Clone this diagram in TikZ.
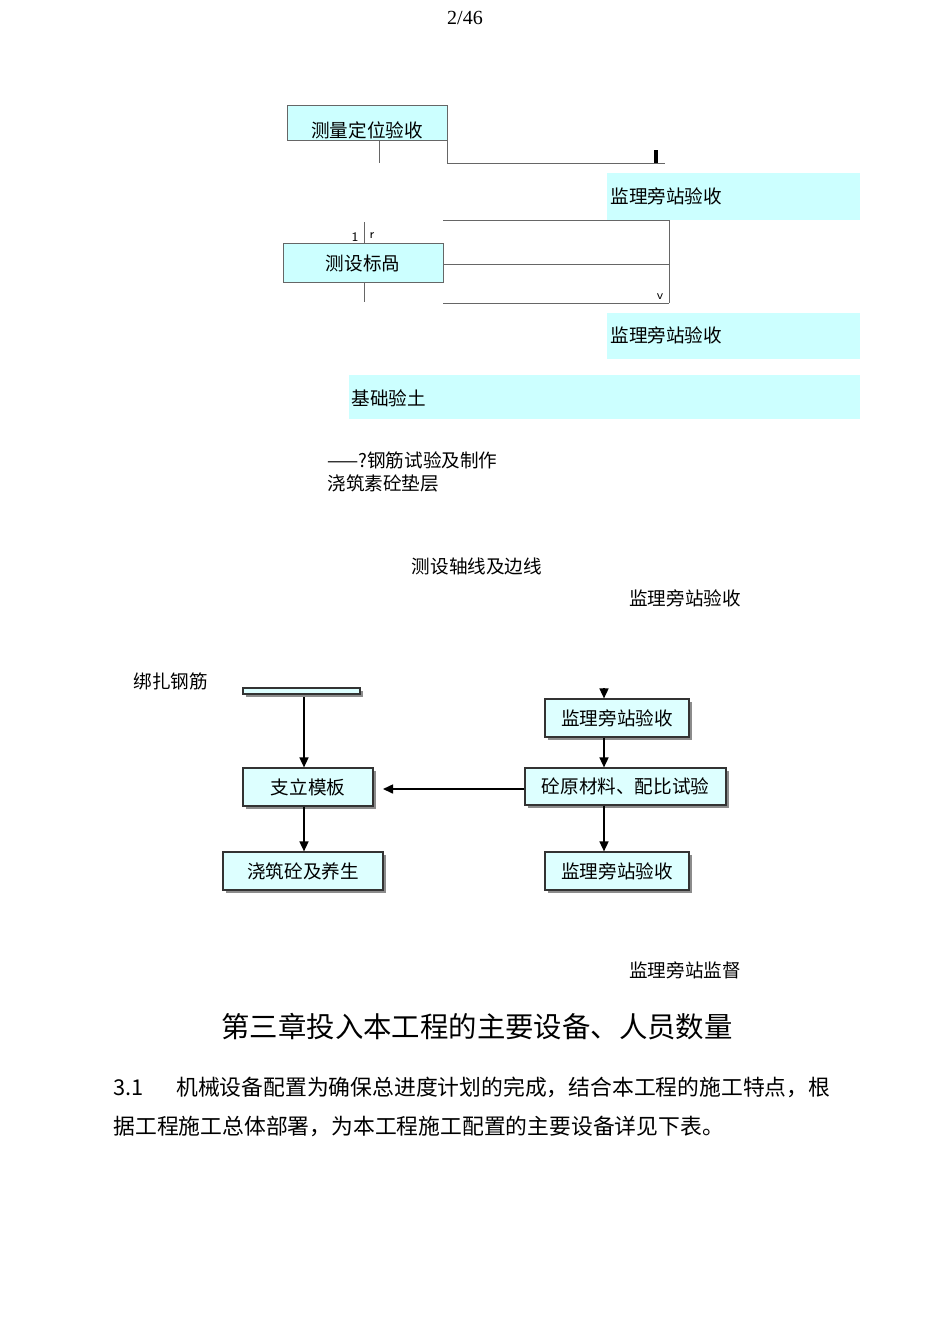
\documentclass[tikz,border=0pt]{standalone}
\usepackage{fontspec}
\setmainfont{Liberation Serif}
\newfontfamily\cjk{Noto Sans CJK SC}
\usetikzlibrary{shadows,arrows.meta}
\definecolor{cy}{HTML}{CCFFFF}
\definecolor{bx}{HTML}{DDFFFF}
\tikzset{
 ln/.style={draw=black!60, line width=0.5pt},
 cybox/.style={fill=cy, draw=none},
 fbox/.style={fill=bx, draw=black!80, line width=0.6pt, drop shadow={shadow xshift=1.5pt, shadow yshift=-1.5pt, fill=black!45, opacity=1}},
 arr/.style={draw=black, line width=0.8pt, -{Triangle[length=5pt,width=4.5pt]}},
 lab/.style={font=\cjk\fontsize{9.3}{11}\selectfont, inner sep=0pt},
 tiny/.style={font=\sffamily\fontsize{6.5}{7}\selectfont, inner sep=0pt},
}
\begin{document}
\begin{tikzpicture}[x=0.5pt,y=-0.5pt]
\useasboundingbox (0,0) rectangle (950,1344);
\node[font=\fontsize{10}{12}\selectfont] (pg) at (465,18) {2/46};
% top part
\filldraw[fill=cy, draw=black!60] (287,105) rectangle (447,140);
\node[lab] (b1) at (367,130) {测量定位验收};
\coordinate (c1) at (379,140); \coordinate (c2) at (379,163);
\draw[ln] (c1) -- (c2);
\coordinate (c3) at (447,140); \coordinate (c4) at (665,163);
\draw[ln] (c3) |- (c4);
\draw[line width=1.8pt] (656,150) -- (656,163);
\fill[cy] (607,173) rectangle (860,220);
\node[lab, anchor=west] (j1) at (610,196) {监理旁站验收};
\coordinate (d1) at (443,220); \coordinate (d2) at (669,220); \coordinate (d3) at (669,303);
\draw[ln] (d1) -- (d2) -- (d3);
\node[tiny] (one) at (355,237) {1};
\node[tiny] (rr) at (372,236) {r};
\coordinate (e1) at (364,222); \coordinate (e2) at (364,243);
\draw[ln] (e1) -- (e2);
\filldraw[fill=cy, draw=black!60] (283,243) rectangle (443,282);
\node[lab] (b2) at (363,263) {测设标咼};
\coordinate (f1) at (443,264); \coordinate (f2) at (669,264);
\draw[ln] (f1) -- (f2);
\coordinate (g1) at (364,282); \coordinate (g2) at (364,302);
\draw[ln] (g1) -- (g2);
\coordinate (h1) at (443,303); \coordinate (h2) at (669,303);
\draw[ln] (h1) -- (h2);
\node[tiny] (vv) at (660,297) {v};
\fill[cy] (607,313) rectangle (860,359);
\node[lab, anchor=west] (j2) at (610,335) {监理旁站验收};
\fill[cy] (349,375) rectangle (860,419);
\node[lab, anchor=west] (jt) at (351,398) {基础验土};
\node[lab, anchor=west] (t1) at (327,460) {——?钢筋试验及制作};
\node[lab, anchor=west] (t2) at (327,483) {浇筑素砼垫层};
\node[lab] (t3) at (477,566) {测设轴线及边线};
\node[lab] (t4) at (685,598) {监理旁站验收};
\node[lab, anchor=west] (t5) at (133,681) {绑扎钢筋};
% lower flowchart
\path[fbox] (243,688) rectangle (360,694);
\node[fbox, lab, minimum width=65pt, minimum height=19pt] (zl) at (308,787) {支立模板};
\node[fbox, lab, minimum width=80pt, minimum height=19pt] (jz) at (303,871) {浇筑砼及养生};
\node[fbox, lab, minimum width=72pt, minimum height=19pt] (r1) at (617,718) {监理旁站验收};
\node[fbox, lab, minimum width=100.5pt, minimum height=18.5pt] (r2) at (625.5,786.5) {砼原材料、配比试验};
\node[fbox, lab, minimum width=72pt, minimum height=19pt] (r3) at (617,871) {监理旁站验收};
\coordinate (top1) at (304,697);
\coordinate (top2) at (604,688);
\draw[arr] (top1) -- (top1 |- zl.north);
\draw[arr] (zl.south -| top1) -- (jz.north -| top1);
\draw[arr] (top2) -- (r1.north -| top2);
\draw[arr] (r1.south -| top2) -- (r2.north -| top2);
\draw[arr] (r2.south -| top2) -- (r3.north -| top2);
\draw[arr] (r2.west |- 0,789) -- (383,789);
\node[lab] (t6) at (685,970) {监理旁站监督};
\node[font=\cjk\fontsize{14.2}{17}\selectfont, inner sep=0pt] (title) at (477,1027) {第三章投入本工程的主要设备、人员数量};
\node[font=\cjk\fontsize{10.9}{12}\selectfont, inner sep=0pt, anchor=west] (p1) at (113,1087) {3.1\hspace{1.5em}机械设备配置为确保总进度计划的完成，结合本工程的施工特点，根};
\node[font=\cjk\fontsize{10.9}{12}\selectfont, inner sep=0pt, anchor=west] (p2) at (113,1126) {据工程施工总体部署，为本工程施工配置的主要设备详见下表。};
\end{tikzpicture}
\end{document}
